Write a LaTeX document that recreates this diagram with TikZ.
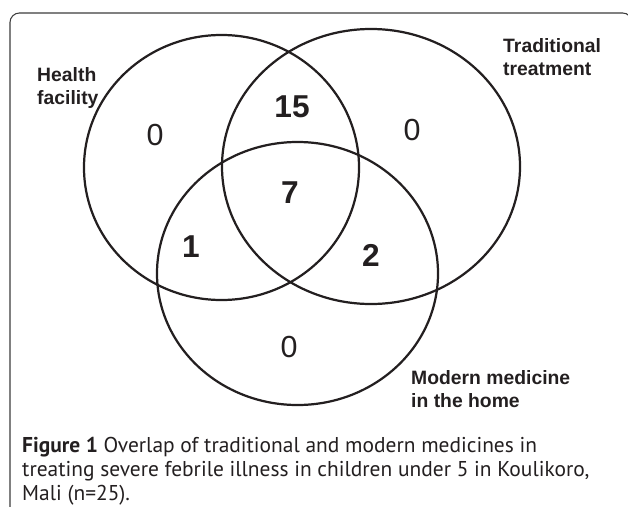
\documentclass[tikz,border=0pt]{standalone}
\usepackage{fontspec}
\setmainfont{Liberation Sans}
\newfontfamily\captionfont{PT Sans}
\usetikzlibrary{shapes.geometric}
\definecolor{InkBlack}{RGB}{35,31,32}
\definecolor{FrameGray}{RGB}{60,60,60}
\tikzset{
  venn/.style={draw=InkBlack, line width=1.9pt, ellipse, inner sep=0pt},
  setlabel/.style={font=\fontsize{16.5}{19.5}\selectfont\bfseries, text=InkBlack,
    align=left, anchor=west, inner sep=0pt},
  count/.style={font=\fontsize{27}{30}\selectfont\bfseries, text=InkBlack, inner sep=0pt},
  zerocount/.style={font=\fontsize{26}{30}\selectfont, text=InkBlack, inner sep=0pt},
  frame/.style={draw=FrameGray, line width=0.9pt, rounded corners=8pt}
}
\begin{document}
\begin{tikzpicture}[x=0.03cm, y=-0.03cm]
  \useasboundingbox (0,0) rectangle (628,506);
  \clip (0,0) rectangle (628,506);
  \draw[frame] (10,530) -- (10,13) -- (632,13) -- (632,530);
  % the three sets
  \node[venn, minimum width=8.25cm, minimum height=7.95cm] (health) at (221.5,167.5) {};
  \node[venn, minimum width=8.94cm, minimum height=8.25cm] (trad) at (371,166.5) {};
  \node[venn, minimum width=8.43cm, minimum height=7.89cm] (home) at (297.5,273.5) {};
  % set names
  \node[setlabel] (healthname) at (37,88) {Health\\facility};
  \node[setlabel] (tradname) at (503,57) {Traditional\\treatment};
  \node[setlabel] (homename) at (411,389.5) {Modern medicine\\in the home};
  % counts
  \node[zerocount] (onlyhealth) at (155,135) {0};
  \node[count] (healthtrad) at (292,107) {15};
  \node[zerocount] (onlytrad) at (412,130) {0};
  \node[count] (allthree) at (290,193) {7};
  \node[count] (healthhome) at (191,247) {1};
  \node[count] (tradhome) at (371,255) {2};
  \node[zerocount] (onlyhome) at (289,347) {0};
  % caption
  \node[anchor=north west, inner sep=0pt, align=left, text=InkBlack,
    font=\captionfont\fontsize{18.3}{20.8}\selectfont] (caption) at (22,436.5)
    {\textbf{Figure 1} Overlap of traditional and modern medicines in\\
     treating severe febrile illness in children under 5 in Koulikoro,\\
     Mali (n=25).};
\end{tikzpicture}
\end{document}
